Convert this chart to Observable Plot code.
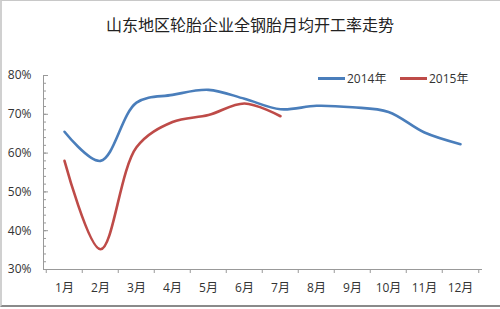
<!DOCTYPE html>
<html>
<head>
<meta charset="utf-8">
<script src="https://cdn.jsdelivr.net/npm/d3@7"></script>
<script src="https://cdn.jsdelivr.net/npm/@observablehq/plot@0.6"></script>
<style>
  html, body { margin: 0; padding: 0; background: #fff; }
  #wrap { position: relative; width: 500px; height: 309px; overflow: hidden; background: #fff; }
  #frame { position: absolute; left: 0; top: 0; width: 499px; height: 304px;
           border-top: 1px solid #c8c8c8; border-left: 2px solid #d0d0d0; border-bottom: 2px solid #8a8a8a; pointer-events: none; }
  #title { position: absolute; left: 0; top: 12px; width: 500px; text-align: center;
           font-family: "Noto Sans CJK SC", sans-serif; font-size: 16px; color: #222; }
  .leg { position: absolute; top: 69px; font-family: "Open Sans", "Noto Sans CJK SC", sans-serif; font-size: 12px; color: #333; display: flex; align-items: center; }
  .leg span.sw { display: inline-block; width: 27px; height: 3px; margin-right: 2px; }
  #plot { position: absolute; left: 0; top: 0; }
</style>
</head>
<body>
<div id="wrap">
  <div id="plot"></div>
  <div id="title">山东地区轮胎企业全钢胎月均开工率走势</div>
  <div class="leg" style="left:318px"><span class="sw" style="background:#4a7ebb"></span>2014年</div>
  <div class="leg" style="left:400px"><span class="sw" style="background:#be4b48"></span>2015年</div>
  <div id="frame"></div>
</div>
<script>
const months = ["1月","2月","3月","4月","5月","6月","7月","8月","9月","10月","11月","12月"];
const values2014 = [65.5, 58, 73, 75, 76.3, 74, 71.3, 72.2, 71.8, 70.6, 65.3, 62.3];
const values2015 = [58, 35.2, 61.5, 68, 69.8, 72.8, 69.5];
const yMajorTicks = [30, 40, 50, 60, 70, 80];
const yMinorTicks = [30,32,34,36,38,40,42,44,46,48,50,52,54,56,58,60,62,64,66,68,70,72,74,76,78,80];
const seriesNames = ["2014年", "2015年"];

const data = [
  ...values2014.map((v, i) => ({month: months[i], value: v, series: seriesNames[0]})),
  ...values2015.map((v, i) => ({month: months[i], value: v, series: seriesNames[1]}))
];

const W = 500, H = 309, mL = 43, mR = 19;
const bw = (W - mL - mR) / months.length;

const chart = Plot.plot({
  width: W,
  height: H,
  marginLeft: mL,
  marginRight: mR,
  marginTop: 75,
  marginBottom: 40,
  style: { fontFamily: "Open Sans, Noto Sans CJK SC, sans-serif", fontSize: "12px", color: "#333", background: "transparent" },
  x: { type: "band", domain: months, padding: 0, label: null },
  y: { domain: [30, 80], label: null },
  color: { domain: seriesNames, range: ["#4a7ebb", "#be4b48"] },
  marks: [
    Plot.axisY({ ticks: yMinorTicks, tickSize: -3, text: null, stroke: "#999", label: null }),
    Plot.axisY({ ticks: yMajorTicks, tickSize: -5, tickPadding: 17, tickFormat: d => d + "%", stroke: "#999", fill: "#333", fontSize: 12, label: null }),
    Plot.axisX({ ticks: months, tickSize: 4, text: null, stroke: "#999", dx: -bw / 2, label: null }),
    Plot.axisX({ ticks: [months[months.length - 1]], tickSize: 4, text: null, stroke: "#999", dx: bw / 2, label: null }),
    Plot.axisX({ ticks: months, tickSize: 0, tickPadding: 14, fill: "#333", fontSize: 12, label: null }),
    Plot.frame({ anchor: "left", stroke: "#999" }),
    Plot.frame({ anchor: "bottom", stroke: "#999" }),
    Plot.line(data, { x: "month", y: "value", z: "series", stroke: "series", strokeWidth: 2.6, curve: "catmull-rom" })
  ]
});
document.getElementById("plot").appendChild(chart);
</script>
</body>
</html>
